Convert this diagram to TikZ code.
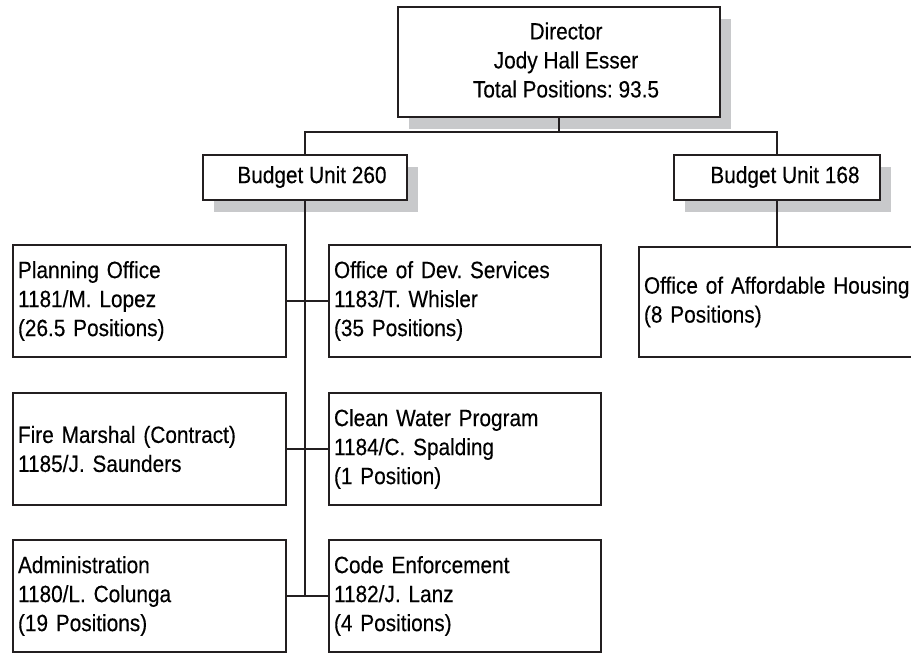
\documentclass[tikz,border=0pt]{standalone}
\usepackage{fontspec}
\setmainfont{Liberation Sans}[FakeStretch=0.885, FakeBold=0.3]
\usetikzlibrary{shadows}
\definecolor{ink}{HTML}{231F20}
\definecolor{shade}{HTML}{C8C9CB}
\newcommand\orgfont{\fontsize{23.5}{29}\selectfont}
\frenchspacing

\begin{document}
\begin{tikzpicture}[x=1pt,y=-1pt,
  frame/.style={draw=ink, line width=2pt, fill=white, rectangle, inner sep=0pt, anchor=north west},
  shadowed/.style={drop shadow={shadow xshift=11pt, shadow yshift=-12pt, fill=shade, draw=none, opacity=1}},
  unit/.style={frame, inner xsep=5pt, inner ysep=0pt, align=left, font=\orgfont, minimum height=112pt},
  caption/.style={font=\orgfont, align=center, inner sep=0pt},
  link/.style={draw=ink, line width=1.8pt},
  trunk/.style={draw=ink, line width=2.6pt}]
\useasboundingbox (0,0) rectangle (911,654);

% director and the two budget units
\node[frame, shadowed, minimum width=322pt, minimum height=110pt] (dir) at (397,6) {};
\node[caption] (dirtxt) at (566,60) {Director\\Jody Hall Esser\\Total Positions: 93.5};

\node[frame, shadowed, minimum width=204pt, minimum height=45pt] (bu260) at (202,154) {};
\node[caption] (bu260txt) at (312,177) {Budget Unit 260};
\node[frame, shadowed, minimum width=206pt, minimum height=45pt] (bu168) at (673,154) {};
\node[caption] (bu168txt) at (785,177) {Budget Unit 168};

% offices under budget unit 260
\node[unit, text width=263pt] (plan) at (12,244) {Planning Office\\1181/M. Lopez\\(26.5 Positions)};
\node[unit, text width=262pt] (dev) at (328,244) {Office of Dev. Services\\1183/T. Whisler\\(35 Positions)};
\node[unit, text width=263pt] (fire) at (12,392) {Fire Marshal (Contract)\\1185/J. Saunders};
\node[unit, text width=262pt] (clean) at (328,392) {Clean Water Program\\1184/C. Spalding\\(1 Position)};
\node[unit, text width=263pt] (admin) at (12,539) {Administration\\1180/L. Colunga\\(19 Positions)};
\node[unit, text width=262pt] (code) at (328,539) {Code Enforcement\\1182/J. Lanz\\(4 Positions)};

% office under budget unit 168
\node[unit, text width=270pt, minimum height=110pt] (aff) at (638,246) {Office of Affordable Housing\\(8 Positions)};

% connectors
\coordinate (split) at (558,132);
\draw[link] (dir.south) -- (dir.south |- split);
\draw[link] (bu260.north) |- (split) -| (bu168.north);
\draw[trunk] (bu260.south) -- (bu260.south |- admin.east);
\draw[link] (plan.east) -- (dev.west);
\draw[link] (fire.east) -- (clean.west);
\draw[link] (admin.east) -- (code.west);
\draw[link] (bu168.south) -- (bu168.south |- aff.north);
\end{tikzpicture}
\end{document}
